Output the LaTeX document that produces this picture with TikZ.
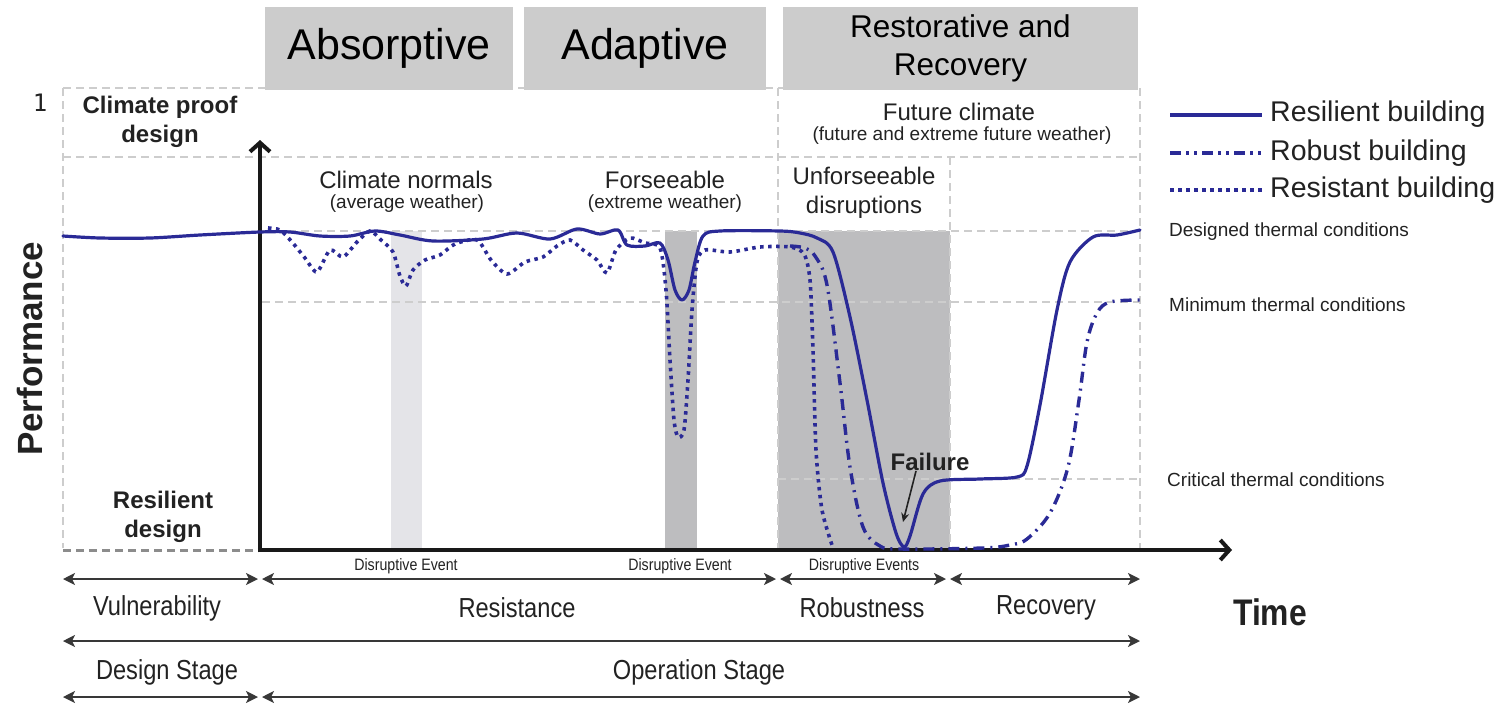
\documentclass[tikz,border=0pt]{standalone}
\usepackage{fontspec}
\setmainfont{Liberation Sans}
\newfontfamily\narrowsans[FakeStretch=0.86]{Liberation Sans}
\newfontfamily\monodigit{DejaVu Sans Mono}
\usetikzlibrary{arrows.meta}
\definecolor{curveblue}{RGB}{42,42,150}
\definecolor{gridgray}{RGB}{205,205,205}
\definecolor{basegray}{RGB}{140,140,140}
\definecolor{boxgray}{RGB}{204,204,204}
\definecolor{bandlight}{RGB}{228,228,232}
\definecolor{banddark}{RGB}{189,189,191}
\definecolor{inkgray}{RGB}{34,34,34}
\tikzset{
  phasebox/.style={fill=boxgray, inner sep=0pt, align=center, text=black},
  gridline/.style={draw=gridgray, line width=2.6pt, dash pattern=on 8pt off 5pt},
  baseline dash/.style={draw=basegray, line width=3pt, dash pattern=on 8pt off 5pt},
  axisline/.style={draw=black!90, line width=4.5pt, -{Straight Barb[length=9pt,width=20pt,line width=4pt]}},
  span/.style={draw=inkgray!90, line width=2pt, {Stealth[length=12pt,width=12pt,inset=3pt]}-{Stealth[length=12pt,width=12pt,inset=3pt]}},
  resilient/.style={draw=curveblue, line width=3.2pt, line join=round, line cap=round},
  robust/.style={draw=curveblue, line width=3.4pt, dash pattern=on 11pt off 6pt on 2pt off 6pt},
  resistant/.style={draw=curveblue, line width=3.6pt, dash pattern=on 3.5pt off 4.5pt},
  txt/.style={text=inkgray, inner sep=0pt, align=center},
  bigtxt/.style={txt, font=\fontsize{24}{29}\selectfont},
  subtxt/.style={txt, font=\fontsize{19}{22}\selectfont},
  boldtxt/.style={txt, font=\bfseries\fontsize{24}{29}\selectfont},
  legtxt/.style={txt, anchor=west, font=\fontsize{28.5}{32}\selectfont},
  leveltxt/.style={txt, anchor=west, font=\fontsize{19}{22}\selectfont},
  smalltxt/.style={txt, font=\narrowsans\fontsize{16.5}{19}\selectfont},
  stagetxt/.style={txt, font=\narrowsans\fontsize{27.5}{31}\selectfont},
}
\begin{document}
\begin{tikzpicture}[x=1pt,y=-1pt]
\useasboundingbox (0,0) rectangle (1505,710);

% shaded event bands
\fill[bandlight] (391,231) rectangle (422,550);
\fill[banddark] (665,231) rectangle (697,550);
\fill[banddark] (778,231) rectangle (950,550);

% dashed frame and level lines
\draw[gridline] (63,88) -- (1140,88);
\draw[gridline] (63,157) -- (1140,157);
\draw[gridline] (262,231) -- (1140,231);
\draw[gridline] (262,302) -- (1140,302);
\draw[gridline] (778,479) -- (1140,479);
\draw[gridline] (63,88) -- (63,548);
\draw[gridline] (778,88) -- (778,548);
\draw[gridline] (950,157) -- (950,548);
\draw[gridline] (1140,88) -- (1140,548);
\draw[baseline dash] (63,550) -- (258,550);

% phase boxes
\node[phasebox, minimum width=248pt, minimum height=83pt, font=\fontsize{43}{48}\selectfont] (absorptive) at (389,48.5) {Absorptive};
\node[phasebox, minimum width=242pt, minimum height=83pt, font=\fontsize{43}{48}\selectfont] (adaptive) at (645,48.5) {Adaptive};
\node[phasebox, minimum width=355pt, minimum height=83pt, font=\fontsize{31.5}{38}\selectfont] (restorative) at (960.5,48.5) {Restorative and\\Recovery};

\node[txt, font=\monodigit\fontsize{24}{26}\selectfont] (one) at (40,103) {1};

% region labels
\node[boldtxt] (proof) at (160,122) {Climate proof\\design};
\node[boldtxt] (resdesign) at (163,517) {Resilient\\design};
\node[txt, font=\bfseries\fontsize{35}{40}\selectfont, rotate=90, anchor=base] (perf) at (42,349) {Performance};

\node[bigtxt] (normals) at (406,180) {Climate normals};
\node[subtxt] (avg) at (407,204) {(average weather)};
\node[bigtxt] (forsee) at (665,180) {Forseeable};
\node[subtxt] (extreme) at (665,204) {(extreme weather)};
\node[bigtxt] (unforsee) at (864,193) {Unforseeable\\disruptions};
\node[bigtxt] (future) at (959,112) {Future climate};
\node[subtxt] (futurew) at (962,136) {(future and extreme future weather)};

% legend
\coordinate (l1a) at (1170,115); \coordinate (l1b) at (1262,115);
\coordinate (l2a) at (1170,153); \coordinate (l2b) at (1262,153);
\coordinate (l3a) at (1170,190); \coordinate (l3b) at (1262,190);
\draw[resilient, line cap=butt] (l1a) -- (l1b);
\draw[robust, dash pattern=on 11pt off 5pt on 3pt off 5pt on 3pt off 5pt] (l2a) -- (l2b);
\draw[resistant] (l3a) -- (l3b);
\node[legtxt] (legres) at (1270,114) {Resilient building};
\node[legtxt] (legrob) at (1270,153) {Robust building};
\node[legtxt] (legrst) at (1270,190) {Resistant building};

\node[leveltxt] (designed) at (1169,232) {Designed thermal conditions};
\node[leveltxt] (minimum) at (1169,305) {Minimum thermal conditions};
\node[leveltxt] (critical) at (1167,480) {Critical thermal conditions};

% axes
\coordinate (origin) at (260,550);
\coordinate (ytop) at (260,140);
\coordinate (xend) at (1232,550);
\draw[axisline] ([yshift=-2.25pt]origin) -- (ytop);
\draw[axisline] ([xshift=-2.25pt]origin) -- (xend);

% performance curves
\draw[robust] plot[smooth, tension=0.55] coordinates {
  (790,246) (805,248) (815,256) (827,285) (840,383) (850,467) (863,527)
  (880,546) (900,549) (983,548) (1010,545) (1027,539) (1050,513)
  (1068,467) (1079,400) (1087,342) (1097,313) (1110,302) (1140,300)};
\draw[resistant] plot[smooth, tension=0.45] coordinates {
  (268,228) (280,230) (292,242) (305,258) (317,272) (330,250) (343,257)
  (357,242) (370,231) (381,240) (393,252) (400,276) (406,286) (413,270)
  (425,260) (440,255) (455,244) (477,240) (491,260) (507,274) (525,262)
  (543,257) (557,246) (570,240) (583,250) (597,260) (607,273) (616,250)
  (630,238) (645,243) (660,248) (666,290) (670,360) (674,420) (678,437)
  (684,430) (688,380) (692,310) (697,262) (705,250) (730,252) (760,247)
  (790,247) (804,254) (810,280) (813,350) (816,450) (822,510) (833,548)};
\draw[resilient] plot[smooth, tension=0.5] coordinates {
  (63,236) (100,238) (150,238) (200,235) (260,232) (290,232) (320,236)
  (350,236) (375,231) (400,235) (433,241) (483,239) (517,233) (550,239)
  (577,229) (600,234) (618,230) (627,245) (645,246) (660,243) (668,260)
  (675,290) (682,300) (689,290) (695,262) (703,236) (720,231) (780,231)
  (800,233) (817,238) (833,252) (850,317) (867,400) (883,483) (896,533)
  (904,547) (910,536) (923,494) (940,481) (980,479) (1017,477) (1027,466)
  (1040,405) (1057,310) (1070,262) (1093,237) (1117,235) (1140,230)};

% failure marker
\node[boldtxt] (failure) at (930,462) {Failure};
\coordinate (failtip) at (903,522);
\draw[draw=inkgray, line width=1.6pt, -{Stealth[length=9pt,width=8pt]}] ([xshift=-14pt]failure.south) -- (failtip);

% disruptive event labels
\node[smalltxt] (ev1) at (406,566) {Disruptive Event};
\node[smalltxt] (ev2) at (680,566) {Disruptive Event};
\node[smalltxt] (ev3) at (864,566) {Disruptive Events};

% timeline spans
\coordinate (r1a) at (63,579); \coordinate (r1b) at (258,579);
\coordinate (r1c) at (262,579); \coordinate (r1d) at (776,579);
\coordinate (r1e) at (780,579); \coordinate (r1f) at (946,579);
\coordinate (r1g) at (950,579); \coordinate (r1h) at (1140,579);
\draw[span] (r1a) -- (r1b);
\draw[span] (r1c) -- (r1d);
\draw[span] (r1e) -- (r1f);
\draw[span] (r1g) -- (r1h);

\node[stagetxt] (vuln) at (157,608) {Vulnerability};
\node[stagetxt] (resist) at (517,608) {Resistance};
\node[stagetxt] (robust) at (862,608) {Robustness};
\node[stagetxt] (recov) at (1046,608) {Recovery};
\node[txt, font=\narrowsans\bfseries\fontsize{37}{40}\selectfont] (time) at (1270,612) {Time};

\coordinate (r2a) at (63,641); \coordinate (r2b) at (1140,641);
\draw[span] (r2a) -- (r2b);

\node[stagetxt] (design) at (167,672) {Design Stage};
\node[stagetxt] (operation) at (699,672) {Operation Stage};

\coordinate (r3a) at (63,697); \coordinate (r3b) at (258,697);
\coordinate (r3c) at (262,697); \coordinate (r3d) at (1140,697);
\draw[span] (r3a) -- (r3b);
\draw[span] (r3c) -- (r3d);
\end{tikzpicture}
\end{document}
